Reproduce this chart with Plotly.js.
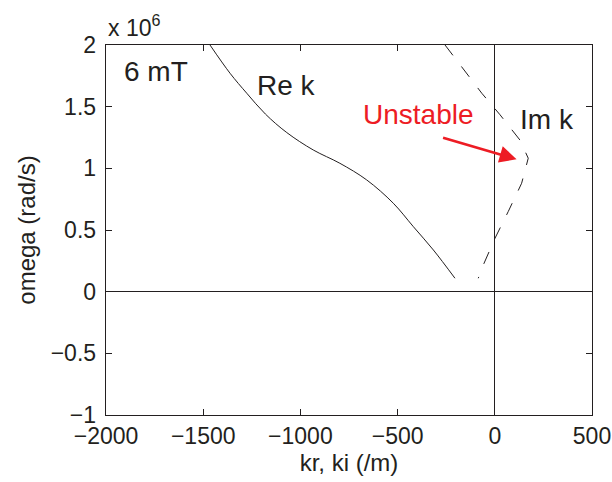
<!DOCTYPE html>
<html>
<head>
<meta charset="utf-8">
<script src="https://cdn.plot.ly/plotly-3.0.1.min.js"></script>
<style>html,body{margin:0;padding:0;background:#fff;}</style>
</head>
<body>
<div id="chart" style="width:612px;height:482px;"></div>
<script>
// Re k (solid) : real part of wavenumber (/m) vs omega (x 10^6 rad/s)
const reK_kr    = [-1465, -1362, -1276, -1180, -1070, -934, -797, -659, -522, -419, -316, -205];
const reK_omega = [2.0, 1.771, 1.609, 1.44, 1.29, 1.149, 1.041, 0.906, 0.717, 0.527, 0.338, 0.109];
// Im k (dashed) : imaginary part of wavenumber (/m) vs omega (x 10^6 rad/s)
const imK_ki    = [-256, -205, -67, 27, 129, 172, 138, 69, 1, -59, -85];
const imK_omega = [2.0, 1.893, 1.609, 1.434, 1.230, 1.082, 0.879, 0.649, 0.433, 0.217, 0.109];
// axis ticks
const xTicks = [-2000, -1500, -1000, -500, 0, 500];
const xTickLabels = ['\u22122000', '\u22121500', '\u22121000', '\u2212500', '0', '500'];
const yTicks = [-1, -0.5, 0, 0.5, 1, 1.5, 2];
const yTickLabels = ['\u22121', '\u22120.5', '0', '0.5', '1', '1.5', '2'];

const FONT = 'Liberation Sans, Arial, Helvetica, sans-serif';
const INK = '#231f20';
const RED = '#ed1c24';

const traces = [
  {x: reK_kr, y: reK_omega, mode: 'lines', type: 'scatter',
   line: {color: INK, width: 1, shape: 'spline', smoothing: 1.0}, hoverinfo: 'skip'},
  {x: imK_ki, y: imK_omega, mode: 'lines', type: 'scatter',
   line: {color: INK, width: 1, dash: '13px,14px'}, hoverinfo: 'skip'}
];

const axisCommon = {
  showgrid: false, ticks: 'inside', ticklen: 6, tickwidth: 1, tickcolor: INK,
  showline: true, linecolor: INK, linewidth: 1.3, mirror: 'ticks',
  zeroline: true, zerolinecolor: INK, zerolinewidth: 1,
  tickfont: {family: FONT, size: 23, color: INK}
};

const layout = {
  width: 612, height: 482,
  margin: {l: 106, r: 20, t: 45, b: 67},
  paper_bgcolor: '#fff', plot_bgcolor: '#fff',
  showlegend: false,
  xaxis: Object.assign({}, axisCommon, {
    range: [-2000, 500], tickvals: xTicks, ticktext: xTickLabels,
    title: {text: 'kr, ki (/m)', font: {family: FONT, size: 24, color: INK}, standoff: 4}
  }),
  yaxis: Object.assign({}, axisCommon, {
    range: [-1, 2], tickvals: yTicks, ticktext: yTickLabels, ticklabelstandoff: 4,
    title: {text: 'omega (rad/s)', font: {family: FONT, size: 24, color: INK}, standoff: 8}
  }),
  annotations: [
    {xref: 'paper', yref: 'paper', x: 0, y: 1, xanchor: 'left', yanchor: 'bottom', yshift: 2,
     text: 'x 10<sup>6</sup>', showarrow: false, font: {family: FONT, size: 23, color: INK}},
    {x: -1743, y: 1.782, text: '6 mT', showarrow: false, font: {family: FONT, size: 28, color: INK}},
    {x: -1074, y: 1.668, text: 'Re k', showarrow: false, font: {family: FONT, size: 28, color: INK}},
    {x: -395, y: 1.433, text: 'Unstable', showarrow: false, font: {family: FONT, size: 28, color: RED}},
    {x: 268, y: 1.399, text: 'Im k', showarrow: false, font: {family: FONT, size: 28, color: INK}},
    {x: 112, y: 1.074, ax: -75, ay: -22, text: '', showarrow: true,
     arrowhead: 2, arrowsize: 1.3, arrowwidth: 2.6, arrowcolor: RED, standoff: 0}
  ]
};

Plotly.newPlot('chart', traces, layout, {staticPlot: true, displayModeBar: false});
</script>
</body>
</html>
